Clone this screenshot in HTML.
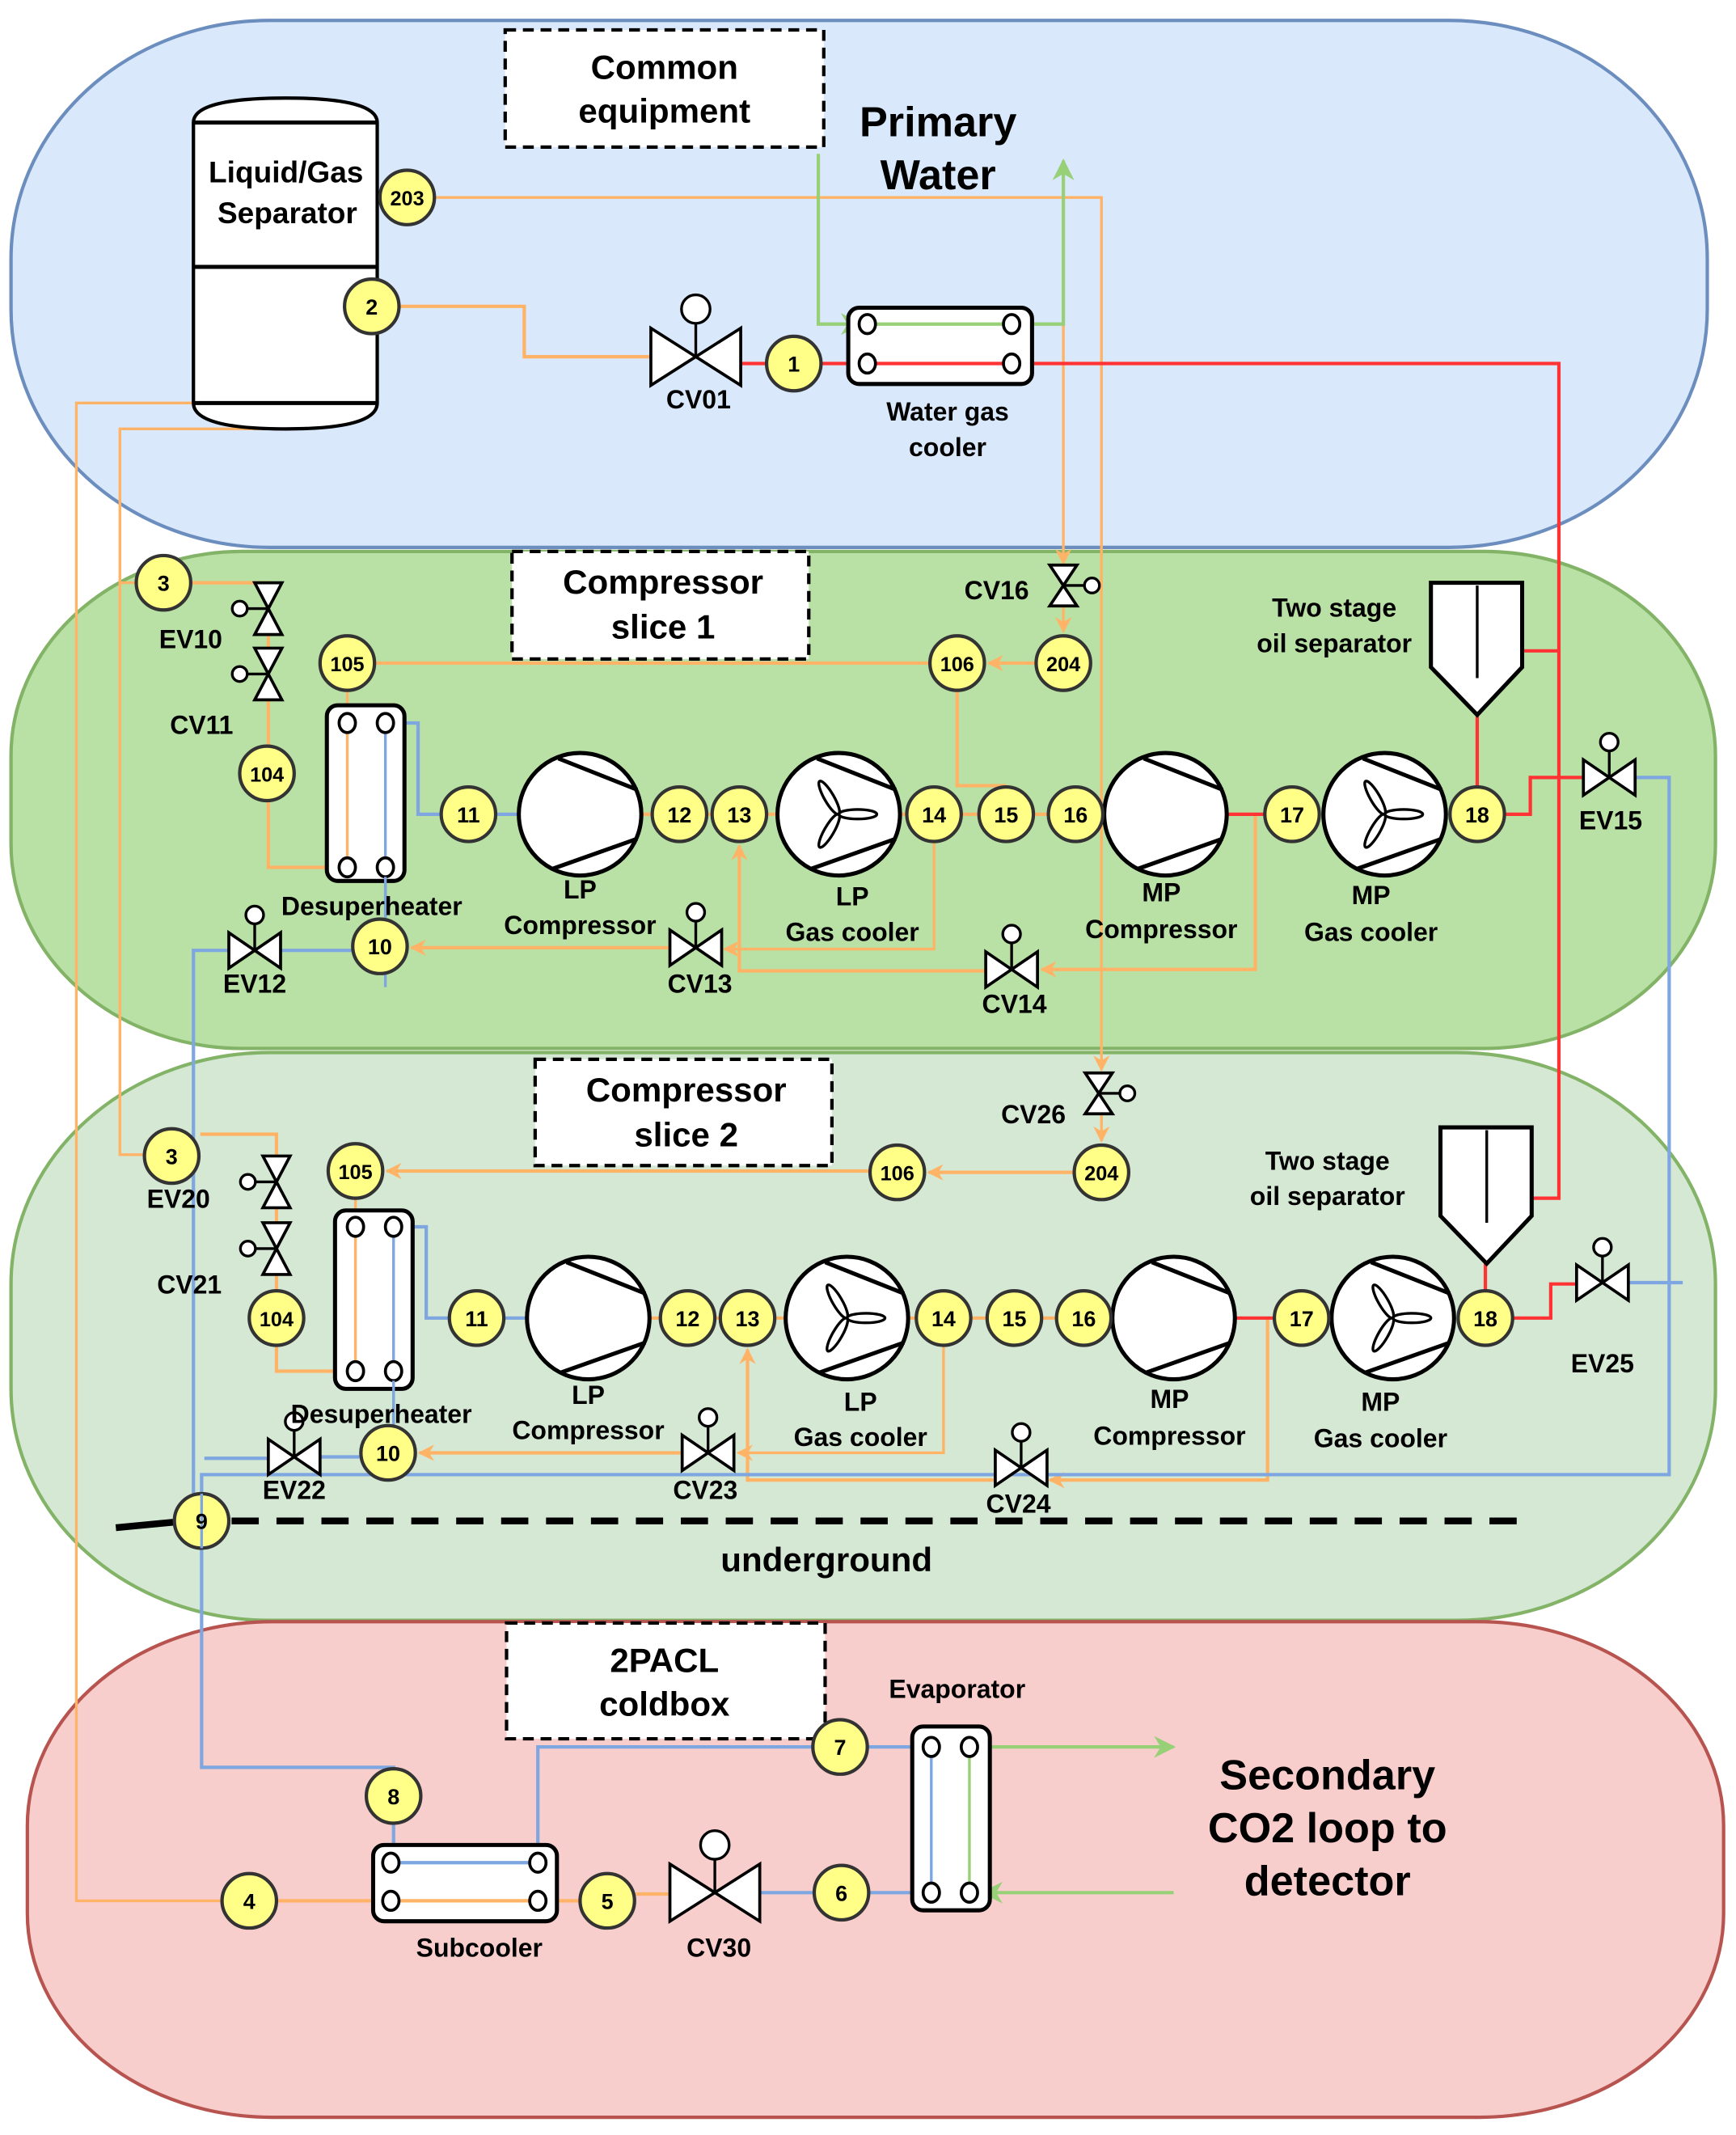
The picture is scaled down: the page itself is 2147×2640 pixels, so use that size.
<!DOCTYPE html>
<html><head><meta charset="utf-8"><style>
html,body{margin:0;padding:0;background:#fff}
svg{display:block}
text{font-family:"Liberation Sans",Arial,sans-serif;font-weight:bold;fill:#000;text-anchor:middle}
.n{font-size:16px}
.l{font-size:19px}
.t{font-size:25px}
.b{font-size:31px}
</style></head><body>
<svg xmlns="http://www.w3.org/2000/svg" width="2147" height="2640" viewBox="0 0 1275 1568">
<defs>
<marker id="aO" viewBox="0 0 10 10" refX="9" refY="5" markerWidth="12" markerHeight="12" markerUnits="userSpaceOnUse" orient="auto"><path d="M0,0 L10,5 L0,10 L3,5 z" fill="#ffb366"/></marker>
<marker id="aG" viewBox="0 0 10 10" refX="9" refY="5" markerWidth="16" markerHeight="16" markerUnits="userSpaceOnUse" orient="auto"><path d="M0,0 L10,5 L0,10 L3,5 z" fill="#97d077"/></marker>
<g id="comp"><circle r="45" fill="#fff" stroke="#000" stroke-width="3"/><line x1="-16" y1="-41" x2="42" y2="-18" stroke="#000" stroke-width="3"/><line x1="-20" y1="40" x2="42" y2="18" stroke="#000" stroke-width="3"/></g>
<g id="gc"><use href="#comp"/><ellipse cx="14" cy="0" rx="14" ry="3.5" fill="none" stroke="#000" stroke-width="2"/><ellipse cx="14" cy="0" rx="14" ry="3.5" fill="none" stroke="#000" stroke-width="2" transform="rotate(120)"/><ellipse cx="14" cy="0" rx="14" ry="3.5" fill="none" stroke="#000" stroke-width="2" transform="rotate(240)"/></g>
<g id="vs"><line x1="0" y1="0" x2="0" y2="-20" stroke="#000" stroke-width="2"/><circle cx="0" cy="-26" r="6.5" fill="#fff" stroke="#000" stroke-width="2"/><path d="M-19,-13 L0,0 L-19,13 Z M19,-13 L0,0 L19,13 Z" fill="#fff" stroke="#000" stroke-width="2.2" stroke-linejoin="miter"/></g>
<g id="vl"><line x1="0" y1="0" x2="0" y2="-24" stroke="#000" stroke-width="2"/><circle cx="0" cy="-35" r="10.5" fill="#fff" stroke="#000" stroke-width="2"/><path d="M-33,-21 L0,0 L-33,21 Z M33,-21 L0,0 L33,21 Z" fill="#fff" stroke="#000" stroke-width="2.2"/></g>
<g id="vv"><line x1="0" y1="0" x2="-16" y2="0" stroke="#000" stroke-width="2"/><circle cx="-21" cy="0" r="5.5" fill="#fff" stroke="#000" stroke-width="2"/><path d="M-10,-19 L0,0 L10,-19 Z M-10,19 L0,0 L10,19 Z" fill="#fff" stroke="#000" stroke-width="2.2"/></g>
<g id="vvr"><line x1="0" y1="0" x2="16" y2="0" stroke="#000" stroke-width="2"/><circle cx="21" cy="0" r="5.5" fill="#fff" stroke="#000" stroke-width="2"/><path d="M-10,-15 L0,0 L10,-15 Z M-10,15 L0,0 L10,15 Z" fill="#fff" stroke="#000" stroke-width="2.2"/></g>
<g id="hc"><ellipse rx="6" ry="7" fill="#fff" stroke="#000" stroke-width="2.2"/></g>
</defs>

<rect x="8" y="15" width="1246" height="387" rx="190" ry="175" fill="#dae8fc" stroke="#6c8ebf" stroke-width="2.5"/>
<rect x="8" y="405" width="1252" height="365" rx="170" ry="150" fill="#b9e0a5" stroke="#82b366" stroke-width="2.5"/>
<rect x="8" y="773" width="1252" height="417" rx="190" ry="170" fill="#d5e8d4" stroke="#82b366" stroke-width="2.5"/>
<rect x="20" y="1191" width="1246" height="364" rx="180" ry="150" fill="#f8cecc" stroke="#b85450" stroke-width="2.5"/>

<rect x="371" y="22" width="234" height="86" fill="#fff" stroke="#000" stroke-width="2.5" stroke-dasharray="8 5"/>
<rect x="376" y="405" width="218" height="79" fill="#fff" stroke="#000" stroke-width="2.5" stroke-dasharray="8 5"/>
<rect x="393" y="778" width="218" height="78" fill="#fff" stroke="#000" stroke-width="2.5" stroke-dasharray="8 5"/>
<rect x="372" y="1192" width="234" height="85" fill="#fff" stroke="#000" stroke-width="2.5" stroke-dasharray="8 5"/>

<path d="M85,1122 L127,1118" stroke="#000" stroke-width="5"/>
<line x1="170" y1="1117" x2="1118" y2="1117" stroke="#000" stroke-width="5" stroke-dasharray="20 13"/>

<g fill="none" stroke-width="2.5">
<g stroke="#ffb366">
<path d="M320,145 H809 V786" stroke-width="2" marker-end="url(#aO)"/>
<path d="M781,145 V414" stroke-width="2" marker-end="url(#aO)"/>
<path d="M294,225 H385 V262 H478"/>
<path d="M142,296 H56 V1396 H162" stroke-width="2"/>
<path d="M208,315 H88 V848 H105" stroke-width="2"/>
<path d="M88,428 H99" stroke-width="2"/>
<path d="M141,428 H197 V547"/>
<path d="M197,589 V637 H249"/>
<path d="M255,508 V637" stroke-width="2"/>
<path d="M276,487 H682"/>
<path d="M760,487 H726" marker-end="url(#aO)"/>
<path d="M781,443 V464" stroke-width="2" marker-end="url(#aO)"/>
<path d="M703,508 V577 H739"/>
<path d="M471,598 H571 M661,598 H811" />
<path d="M686,619 V697 H532" stroke-width="2" marker-end="url(#aO)"/>
<path d="M492,696 H302" marker-end="url(#aO)"/>
<path d="M724,713 H543 V621" marker-end="url(#aO)"/>
<path d="M922,598 V712 H765" marker-end="url(#aO)"/>
<path d="M147,833 H203 V947"/>
<path d="M203,989 V1007 H255"/>
<path d="M261,881 V1007" stroke-width="2"/>
<path d="M638,860 H284" marker-end="url(#aO)"/>
<path d="M788,861 H682" marker-end="url(#aO)"/>
<path d="M809,818 V838" stroke-width="2" marker-end="url(#aO)"/>
<path d="M477,968 H577 M667,968 H817"/>
<path d="M693,989 V1067 H542" stroke-width="2" marker-end="url(#aO)"/>
<path d="M500,1067 H308" marker-end="url(#aO)"/>
<path d="M931,968 V1087 H771" marker-end="url(#aO)"/>
<path d="M731,1087 H549 V991" marker-end="url(#aO)"/>
<path d="M204,1396 H395 M401,1396 H426 M467,1391 H492"/>
</g>
<g stroke="#7ea6e0">
<path d="M283,531 H307 V598 H323 M365,598 H381"/>
<path d="M283,531 V725" stroke-width="2"/>
<path d="M206,698 H258 M168,698 H142 V1097" stroke-width="2.5"/>
<path d="M1201,571 H1226 V1083 H148 V1298 H289 V1362" stroke-width="2.5"/>
<path d="M289,901 H313 V968 H329 M371,968 H387"/>
<path d="M289,901 V1046" stroke-width="2"/>
<path d="M264,1070 H235 M197,1071 H150"/>
<path d="M1196,942 H1236"/>
<path d="M287,1368 H395 V1283 H596 M638,1283 H684 V1390 M559,1390 H597 M639,1390 H684"/>
</g>
<g stroke="#ff3333">
<path d="M545,267 H563 M604,267 H1145 V880 H1125"/>
<path d="M1118,478 H1145"/>
<path d="M901,598 H928 M1085,577 V525"/>
<path d="M1106,598 H1124 V571 H1163"/>
<path d="M907,968 H935 M1091,947 V928"/>
<path d="M1112,968 H1139 V943 H1158"/>
</g>
<g stroke="#97d077">
<path d="M601,113 V238 H632" marker-end="url(#aG)"/>
<path d="M637,238 H781 V118" marker-end="url(#aG)"/>
<path d="M712,1283 H862" marker-end="url(#aG)"/>
<path d="M862,1390 H722" marker-end="url(#aG)"/>
<path d="M712,1283 V1390" stroke-width="2"/>
</g>
</g>

<path d="M142,90 Q142,72 210,72 Q277,72 277,90 V296 Q277,315 210,315 Q142,315 142,296 Z" fill="#fff" stroke="#000" stroke-width="2.5"/>
<line x1="142" y1="90" x2="277" y2="90" stroke="#000" stroke-width="3"/>
<line x1="142" y1="196" x2="277" y2="196" stroke="#000" stroke-width="3"/>
<line x1="142" y1="296" x2="277" y2="296" stroke="#000" stroke-width="3"/>

<rect x="623" y="226" width="135" height="56" rx="8" fill="#fff" stroke="#000" stroke-width="3"/>
<line x1="637" y1="238" x2="743" y2="238" stroke="#97d077" stroke-width="2.5"/>
<line x1="637" y1="267" x2="743" y2="267" stroke="#ff3333" stroke-width="2.5"/>
<use href="#hc" x="637" y="238"/><use href="#hc" x="743" y="238"/><use href="#hc" x="637" y="267"/><use href="#hc" x="743" y="267"/>

<rect x="240" y="518" width="57" height="129" rx="8" fill="#fff" stroke="#000" stroke-width="3"/>
<line x1="255" y1="531" x2="255" y2="637" stroke="#ffb366" stroke-width="2"/>
<line x1="283" y1="531" x2="283" y2="637" stroke="#7ea6e0" stroke-width="2"/>
<use href="#hc" x="255" y="531"/><use href="#hc" x="283" y="531"/><use href="#hc" x="255" y="637"/><use href="#hc" x="283" y="637"/>
<line x1="283" y1="644" x2="283" y2="676" stroke="#7ea6e0" stroke-width="2"/>
<rect x="246" y="889" width="57" height="131" rx="8" fill="#fff" stroke="#000" stroke-width="3"/>
<line x1="261" y1="901" x2="261" y2="1007" stroke="#ffb366" stroke-width="2"/>
<line x1="289" y1="901" x2="289" y2="1007" stroke="#7ea6e0" stroke-width="2"/>
<use href="#hc" x="261" y="901"/><use href="#hc" x="289" y="901"/><use href="#hc" x="261" y="1007"/><use href="#hc" x="289" y="1007"/>
<line x1="289" y1="1014" x2="289" y2="1048" stroke="#7ea6e0" stroke-width="2"/>

<rect x="274" y="1355" width="135" height="56" rx="8" fill="#fff" stroke="#000" stroke-width="3"/>
<line x1="287" y1="1368" x2="395" y2="1368" stroke="#7ea6e0" stroke-width="2.5"/>
<line x1="287" y1="1396" x2="395" y2="1396" stroke="#ffb366" stroke-width="2.5"/>
<use href="#hc" x="287" y="1368"/><use href="#hc" x="395" y="1368"/><use href="#hc" x="287" y="1396"/><use href="#hc" x="395" y="1396"/>
<rect x="670" y="1268" width="57" height="135" rx="8" fill="#fff" stroke="#000" stroke-width="3"/>
<line x1="684" y1="1283" x2="684" y2="1390" stroke="#7ea6e0" stroke-width="2"/>
<line x1="712" y1="1283" x2="712" y2="1390" stroke="#97d077" stroke-width="2"/>
<use href="#hc" x="684" y="1283"/><use href="#hc" x="712" y="1283"/><use href="#hc" x="684" y="1390"/><use href="#hc" x="712" y="1390"/>

<path d="M1051,428 H1118 V490 L1085,525 L1051,490 Z" fill="#fff" stroke="#000" stroke-width="3"/>
<line x1="1085" y1="430" x2="1085" y2="498" stroke="#000" stroke-width="2"/>
<path d="M1058,828 H1125 V893 L1092,928 L1058,893 Z" fill="#fff" stroke="#000" stroke-width="3"/>
<line x1="1092" y1="830" x2="1092" y2="898" stroke="#000" stroke-width="2"/>

<use href="#comp" x="426" y="598"/><use href="#gc" x="616" y="598"/><use href="#comp" x="856" y="598"/><use href="#gc" x="1017" y="598"/>
<use href="#comp" x="432" y="968"/><use href="#gc" x="622" y="968"/><use href="#comp" x="862" y="968"/><use href="#gc" x="1023" y="968"/>

<use href="#vl" x="511" y="262"/>
<use href="#vl" x="525" y="1390"/>
<use href="#vs" x="187" y="698"/><use href="#vs" x="511" y="696"/><use href="#vs" x="743" y="712"/><use href="#vs" x="1182" y="571"/>
<use href="#vs" x="216" y="1070"/><use href="#vs" x="520" y="1067"/><use href="#vs" x="750" y="1078"/><use href="#vs" x="1177" y="942"/>
<use href="#vv" x="197" y="447"/><use href="#vv" x="197" y="495"/>
<use href="#vv" x="203" y="868"/><use href="#vv" x="203" y="917"/>
<use href="#vvr" x="781" y="430"/><use href="#vvr" x="807" y="803"/>

<g fill="#ffff88" stroke="#333" stroke-width="2.5">
<circle cx="299" cy="145" r="20"/><circle cx="273" cy="225" r="20"/><circle cx="583" cy="267" r="20"/>
<circle cx="120" cy="428" r="20"/><circle cx="255" cy="487" r="20"/><circle cx="703" cy="487" r="20"/><circle cx="781" cy="487" r="20"/><circle cx="196" cy="568" r="20"/>
<circle cx="344" cy="598" r="20"/><circle cx="499" cy="598" r="20"/><circle cx="543" cy="598" r="20"/><circle cx="686" cy="598" r="20"/><circle cx="739" cy="598" r="20"/><circle cx="790" cy="598" r="20"/><circle cx="949" cy="598" r="20"/><circle cx="1085" cy="598" r="20"/><circle cx="279" cy="695" r="20"/>
<circle cx="126" cy="849" r="20"/><circle cx="261" cy="860" r="20"/><circle cx="659" cy="861" r="20"/><circle cx="809" cy="861" r="20"/><circle cx="203" cy="968" r="20"/>
<circle cx="350" cy="968" r="20"/><circle cx="505" cy="968" r="20"/><circle cx="549" cy="968" r="20"/><circle cx="693" cy="968" r="20"/><circle cx="745" cy="968" r="20"/><circle cx="796" cy="968" r="20"/><circle cx="956" cy="968" r="20"/><circle cx="1091" cy="968" r="20"/><circle cx="285" cy="1067" r="20"/><circle cx="148" cy="1117" r="20"/>
<circle cx="617" cy="1283" r="20"/><circle cx="289" cy="1319" r="20"/><circle cx="183" cy="1396" r="20"/><circle cx="446" cy="1396" r="20"/><circle cx="618" cy="1390" r="20"/>
</g>
<line x1="148" y1="1097" x2="148" y2="1137" stroke="#7ea6e0" stroke-width="2"/>
<g class="n">
<text x="299" y="151" style="font-size:15px">203</text><text x="273" y="231">2</text><text x="583" y="273">1</text>
<text x="120" y="434">3</text><text x="255" y="493" style="font-size:15px">105</text><text x="703" y="493" style="font-size:15px">106</text><text x="781" y="493" style="font-size:15px">204</text><text x="196" y="574" style="font-size:15px">104</text>
<text x="344" y="604">11</text><text x="499" y="604">12</text><text x="543" y="604">13</text><text x="686" y="604">14</text><text x="739" y="604">15</text><text x="790" y="604">16</text><text x="949" y="604">17</text><text x="1085" y="604">18</text><text x="279" y="701">10</text>
<text x="126" y="855">3</text><text x="261" y="866" style="font-size:15px">105</text><text x="659" y="867" style="font-size:15px">106</text><text x="809" y="867" style="font-size:15px">204</text><text x="203" y="974" style="font-size:15px">104</text>
<text x="350" y="974">11</text><text x="505" y="974">12</text><text x="549" y="974">13</text><text x="693" y="974">14</text><text x="745" y="974">15</text><text x="796" y="974">16</text><text x="956" y="974">17</text><text x="1091" y="974">18</text><text x="285" y="1073">10</text><text x="148" y="1123">9</text>
<text x="617" y="1289">7</text><text x="289" y="1325">8</text><text x="183" y="1402">4</text><text x="446" y="1402">5</text><text x="618" y="1396">6</text>
</g>

<text class="t" x="488" y="58">Common</text><text class="t" x="488" y="90">equipment</text>
<text class="b" x="689" y="100">Primary</text><text class="b" x="689" y="139">Water</text>
<text x="210" y="134" style="font-size:22px">Liquid/Gas</text><text x="211" y="164" style="font-size:22px">Separator</text>
<text class="l" x="513" y="300">CV01</text>
<text class="l" x="696" y="309">Water gas</text><text class="l" x="696" y="335">cooler</text>
<text class="t" x="487" y="436">Compressor</text><text class="t" x="487" y="469">slice 1</text>
<text class="l" x="140" y="476">EV10</text><text class="l" x="148" y="539">CV11</text><text class="l" x="732" y="440">CV16</text>
<text class="l" x="980" y="453">Two stage</text><text class="l" x="980" y="479">oil separator</text>
<text class="l" x="273" y="672">Desuperheater</text>
<text class="l" x="426" y="660">LP</text><text class="l" x="426" y="686">Compressor</text>
<text class="l" x="626" y="665">LP</text><text class="l" x="626" y="691">Gas cooler</text>
<text class="l" x="853" y="662">MP</text><text class="l" x="853" y="689">Compressor</text>
<text class="l" x="1007" y="664">MP</text><text class="l" x="1007" y="691">Gas cooler</text>
<text class="l" x="187" y="729">EV12</text><text class="l" x="514" y="729">CV13</text><text class="l" x="745" y="744">CV14</text><text class="l" x="1183" y="609">EV15</text>
<text class="t" x="504" y="809">Compressor</text><text class="t" x="504" y="842">slice 2</text>
<text class="l" x="759" y="825">CV26</text>
<text class="l" x="975" y="859">Two stage</text><text class="l" x="975" y="885">oil separator</text>
<text class="l" x="131" y="887">EV20</text><text class="l" x="139" y="950">CV21</text>
<text class="l" x="280" y="1045">Desuperheater</text>
<text class="l" x="432" y="1031">LP</text><text class="l" x="432" y="1057">Compressor</text>
<text class="l" x="632" y="1036">LP</text><text class="l" x="632" y="1062">Gas cooler</text>
<text class="l" x="859" y="1034">MP</text><text class="l" x="859" y="1061">Compressor</text>
<text class="l" x="1014" y="1036">MP</text><text class="l" x="1014" y="1063">Gas cooler</text>
<text class="l" x="1177" y="1008">EV25</text>
<text class="l" x="216" y="1101">EV22</text><text class="l" x="518" y="1101">CV23</text><text class="l" x="748" y="1111">CV24</text>
<text class="t" x="607" y="1154">underground</text>
<text class="t" x="488" y="1228">2PACL</text><text class="t" x="488" y="1260">coldbox</text>
<text class="l" x="703" y="1247">Evaporator</text>
<text class="b" x="975" y="1314">Secondary</text><text class="b" x="975" y="1353">CO2 loop to</text><text class="b" x="975" y="1392">detector</text>
<text class="l" x="352" y="1437">Subcooler</text><text class="l" x="528" y="1437">CV30</text>
</svg>
</body></html>
